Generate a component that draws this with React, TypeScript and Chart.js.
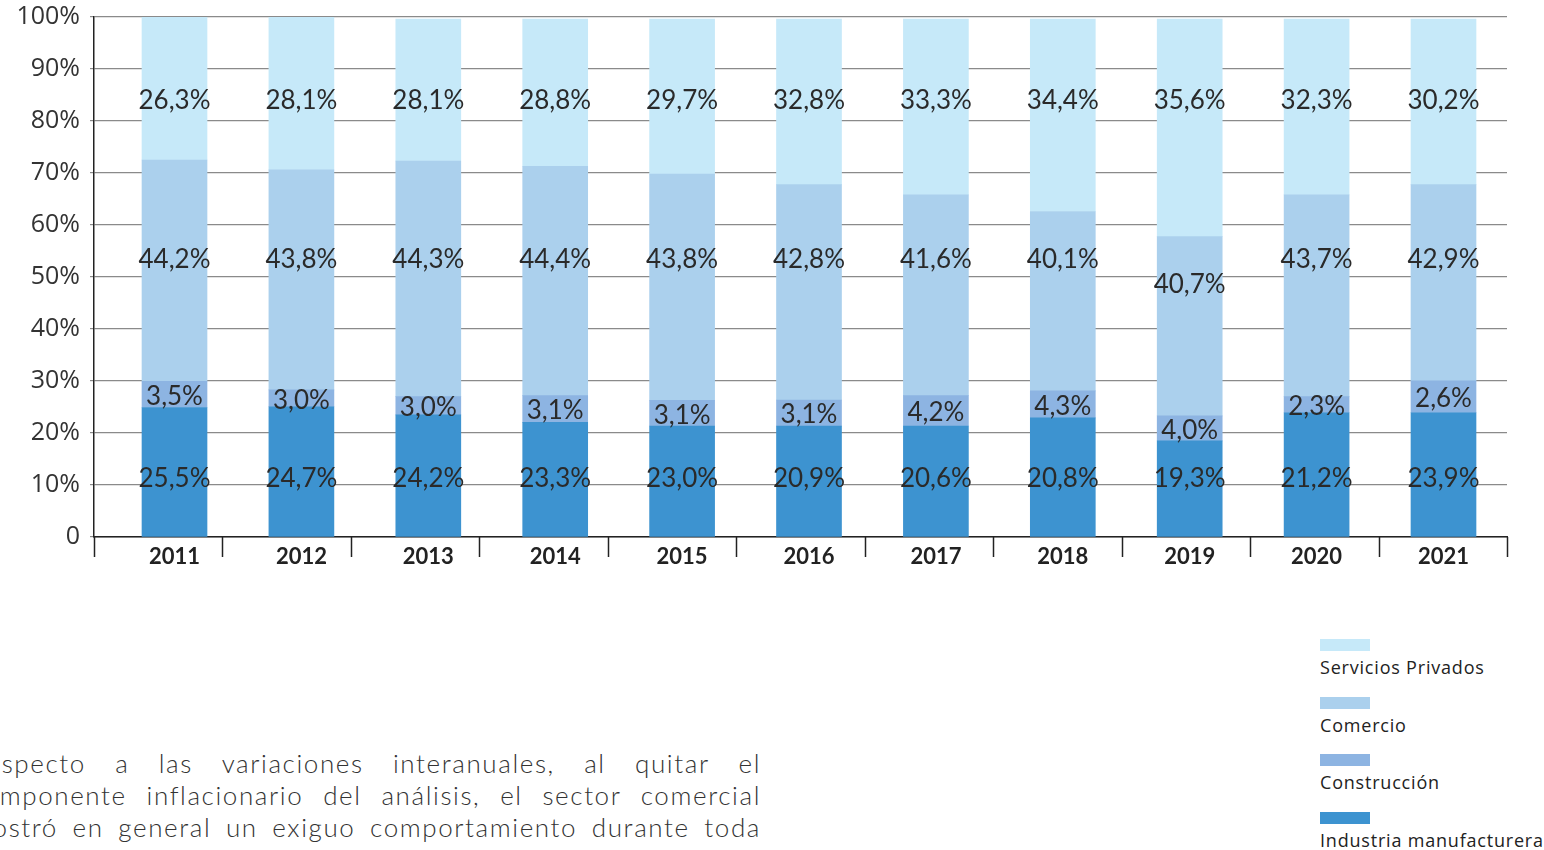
import React, { useEffect, useRef } from "react";
import { Chart, registerables } from "chart.js";

Chart.register(...registerables);

// Categories
const years = ["2011", "2012", "2013", "2014", "2015", "2016", "2017", "2018", "2019", "2020", "2021"];

// Segment heights as drawn in the picture (percentage points)
const industria = [24.9, 25.05, 23.5, 22.05, 21.35, 21.35, 21.35, 22.9, 18.5, 23.9, 23.9];
const construccion = [5.05, 3.25, 3.5, 5.15, 4.95, 5.0, 5.85, 5.2, 4.8, 3.1, 6.15];
const comercio = [42.55, 42.3, 45.3, 44.1, 43.5, 41.4, 38.6, 34.5, 34.45, 38.8, 37.7];
const servicios = [27.5, 29.4, 27.3, 28.3, 29.8, 31.85, 33.8, 37.0, 41.85, 33.8, 31.85];

// Values printed on the bars
const industriaLabels = [25.5, 24.7, 24.2, 23.3, 23.0, 20.9, 20.6, 20.8, 19.3, 21.2, 23.9];
const construccionLabels = [3.5, 3.0, 3.0, 3.1, 3.1, 3.1, 4.2, 4.3, 4.0, 2.3, 2.6];
const comercioLabels = [44.2, 43.8, 44.3, 44.4, 43.8, 42.8, 41.6, 40.1, 40.7, 43.7, 42.9];
const serviciosLabels = [26.3, 28.1, 28.1, 28.8, 29.7, 32.8, 33.3, 34.4, 35.6, 32.3, 30.2];

// Y tick values
const yTicks = [0, 10, 20, 30, 40, 50, 60, 70, 80, 90, 100];

const seriesNames = ["Industria manufacturera", "Construcción", "Comercio", "Servicios Privados"];
const seriesColors = ["#3d93d0", "#8db4e2", "#abd0ed", "#c6e9f9"];

const fmt = (v: number) => v.toFixed(1).replace(".", ",") + "%";

const paragraphLines = [
  "Respecto a las variaciones interanuales, al quitar el",
  "componente inflacionario del análisis, el sector comercial",
  "mostró en general un exiguo comportamiento durante toda",
  "la serie de estudio, con tasas negativas. El sector de la",
];

const segLabels = {
  id: "segLabels",
  afterDatasetsDraw(chart: any) {
    const ctx = chart.ctx;
    const ys = chart.scales.y;
    ctx.save();
    ctx.font = "26px Lato";
    ctx.fillStyle = "#2a2a2a";
    ctx.textAlign = "center";
    ctx.textBaseline = "middle";
    chart.data.datasets.forEach((ds: any, di: number) => {
      const meta = chart.getDatasetMeta(di);
      meta.data.forEach((el: any, i: number) => {
        let py: number;
        if (di === 0) py = ys.getPixelForValue(11.6);
        else if (di === 1) py = (el.y + el.base) / 2;
        else if (di === 2) py = ys.getPixelForValue(Math.min(53.65, ys.getValueForPixel(el.y) - 8.75));
        else py = ys.getPixelForValue(84.3);
        ctx.fillText(fmt(ds.labelValues[i]), el.x, py + 2);
      });
    });
    ctx.restore();
  },
};

const catTicks = {
  id: "catTicks",
  afterDraw(chart: any) {
    const { ctx, chartArea } = chart;
    const n = years.length;
    const w = (chartArea.right - chartArea.left) / n;
    ctx.save();
    ctx.strokeStyle = "#222";
    ctx.lineWidth = 1.5;
    for (let i = 0; i <= n; i++) {
      const x = Math.round(chartArea.left + i * w) + 0.5;
      ctx.beginPath();
      ctx.moveTo(x, chartArea.bottom);
      ctx.lineTo(x, chartArea.bottom + 20);
      ctx.stroke();
    }
    ctx.restore();
  },
};

export default function App() {
  const ref = useRef<HTMLCanvasElement | null>(null);

  useEffect(() => {
    if (!ref.current) return;
    const mk = (vals: number[]) => vals.map((v, i) => ({ x: i, y: v }));
    const raw = [industria, construccion, comercio, servicios];
    const lbl = [industriaLabels, construccionLabels, comercioLabels, serviciosLabels];
    const chart = new Chart(ref.current, {
      type: "bar",
      data: {
        datasets: raw.map((vals, k) => ({
          label: seriesNames[k],
          data: mk(vals),
          backgroundColor: seriesColors[k],
          borderWidth: 0,
          barThickness: 65,
          labelValues: lbl[k],
        })) as any,
      },
      options: {
        responsive: false,
        animation: false,
        layout: { padding: { top: 17, right: 37, left: 0, bottom: 0 } },
        plugins: { legend: { display: false }, tooltip: { enabled: false } },
        scales: {
          x: {
            type: "linear",
            stacked: true,
            offset: false,
            min: -0.6344,
            max: 10.5004,
            grid: { display: false, drawTicks: false, offset: false },
            border: { display: true, color: "#222", width: 1.5 },
            ticks: {
              autoSkip: false,
              maxRotation: 0,
              padding: 7,
              color: "#222",
              font: { family: "Lato", size: 22, weight: "bold" },
              callback: (v: any) => years[v] ?? "",
            },
            afterBuildTicks: (s: any) => {
              s.ticks = years.map((_, i) => ({ value: i }));
            },
            afterFit: (s: any) => {
              s.height = 63;
              s.paddingLeft = 0;
              s.paddingRight = 0;
            },
          } as any,
          y: {
            stacked: true,
            min: 0,
            max: 100,
            grid: { color: "#8a8a8a", lineWidth: 1.2, tickLength: 4 },
            border: { display: true, color: "#222", width: 1.5 },
            ticks: {
              padding: 10,
              color: "#333",
              font: { family: "'Open Sans'", size: 25 },
              callback: (v: any) => (v === 0 ? "0" : v + "%"),
            },
            afterBuildTicks: (s: any) => {
              s.ticks = yTicks.map((v) => ({ value: v }));
            },
            afterFit: (s: any) => {
              s.width = 94;
              s.paddingTop = 0;
              s.paddingBottom = 0;
            },
          } as any,
        },
      },
      plugins: [segLabels, catTicks],
    });
    return () => chart.destroy();
  }, []);

  const legendOrder = [3, 2, 1, 0];

  return (
    <div style={{ position: "fixed", left: 0, top: 0, width: 1544, height: 850, overflow: "hidden", background: "#fff" }}>
      <canvas ref={ref} width={1544} height={600} style={{ position: "absolute", left: 0, top: 0, width: 1544, height: 600 }} />
      <div style={{ position: "absolute", left: 1320, top: 639, fontFamily: "'Open Sans', sans-serif", color: "#222" }}>
        {legendOrder.map((k) => (
          <div key={k} style={{ height: 57.5 }}>
            <div style={{ width: 50, height: 12, background: seriesColors[k] }} />
            <div style={{ marginTop: 5, fontSize: 18, letterSpacing: "0.8px", lineHeight: "22px", whiteSpace: "nowrap" }}>{seriesNames[k]}</div>
          </div>
        ))}
      </div>
      <div style={{ position: "absolute", left: -30, top: 747, width: 791, fontFamily: "Lato, sans-serif", fontWeight: 300, fontSize: 26, letterSpacing: "1.6px", lineHeight: "32px", color: "#333" }}>
        {paragraphLines.map((t, i) => (
          <div key={i} style={{ textAlign: "justify", textAlignLast: "justify", height: 32, overflow: "hidden" }}>{t}</div>
        ))}
      </div>
    </div>
  );
}
